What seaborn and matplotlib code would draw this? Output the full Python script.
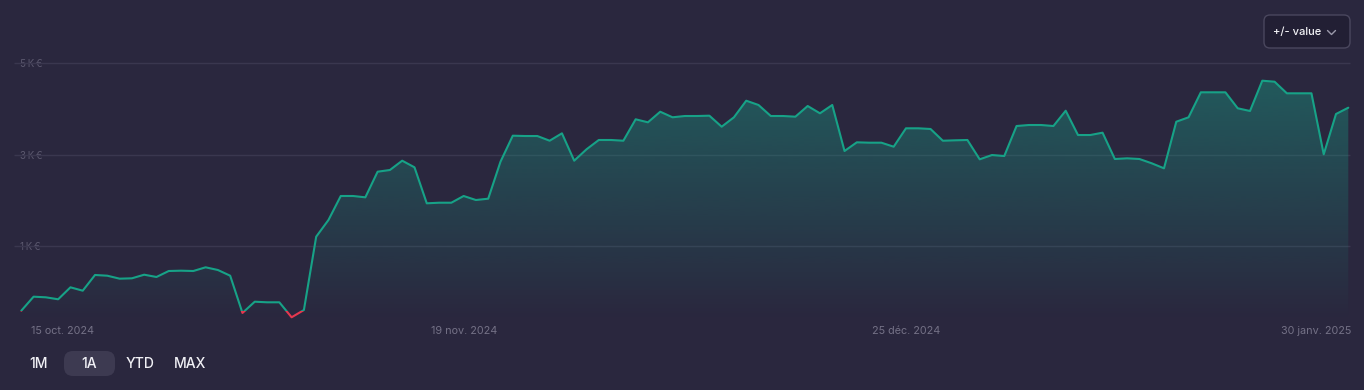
import numpy as np
import pandas as pd
import matplotlib
matplotlib.use("Agg")
import matplotlib.pyplot as plt
import seaborn as sns
from matplotlib.patches import Rectangle, FancyBboxPatch
from matplotlib.colors import to_rgb

# ---------------- data ----------------
values = [-416, -109, -123, -166, 96, 22, 366, 350, 285, 293,
          372, 322, 453, 460, 453, 534, 475, 350, -465, -219,
          -232, -232, -560, -401, 1204, 1570, 2095, 2095, 2066, 2627,
          2664, 2868, 2723, 1935, 1948, 1948, 2095, 2007, 2036, 2846,
          3415, 3408, 3408, 3305, 3467, 2868, 3117, 3321, 3321, 3305,
          3774, 3708, 3940, 3818, 3846, 3846, 3853, 3612, 3818, 4181,
          4087, 3846, 3846, 3831, 4065, 3905, 4087, 3080, 3270, 3262,
          3262, 3174, 3577, 3577, 3562, 3305, 3314, 3321, 2898, 2992,
          2970, 3627, 3649, 3649, 3627, 3962, 3430, 3430, 3481, 2905,
          2920, 2905, 2811, 2701, 3721, 3818, 4365, 4365, 4365, 4015,
          3956, 4619, 4597, 4343, 4343, 4343, 3008, 3890, 4028]
tick_labels = ["15 oct. 2024", "19 nov. 2024", "25 déc. 2024", "30 janv. 2025"]
tick_index = [3.35, 36, 72, 105.4]
y_ticks = [1000, 3000, 5000]
y_tick_labels = ["1\u202fK\u202f€", "3\u202fK\u202f€", "5\u202fK\u202f€"]
range_buttons = ["1M", "1A", "YTD", "MAX"]
active_button = "1A"
mode_label = "+/- value"

# ---------------- style ----------------
W, H = 1364, 390
BG = "#2a273e"
TEAL = "#17a287"
RED = "#e5384f"
GRID = "#3a374f"
XLAB = "#747186"
YLAB = "#5c596f"

sns.set_theme(style="dark", rc={"axes.facecolor": BG, "figure.facecolor": BG})
plt.rcParams["font.family"] = ["Inter", "DejaVu Sans"]

df = pd.DataFrame({"i": np.arange(len(values)), "v": values})
n = len(values)

fig = plt.figure(figsize=(W / 100, H / 100), dpi=100, facecolor=BG)
ax_top_px, ax_bot_px = 40, 322
ax = fig.add_axes([0, (H - ax_bot_px) / H, 1, (ax_bot_px - ax_top_px) / H])
ax.set_facecolor(BG)

x0_px, x1_px = 21.3, 1348.3
px = (x1_px - x0_px) / (n - 1)
xlo, xhi = -x0_px / px, (n - 1) + (W - x1_px) / px
zero_y, ppk = 291.7, 45.68


def y_of(py):
    return (zero_y - py) * 1000 / ppk


ylo, yhi = y_of(ax_bot_px), y_of(ax_top_px)

# gridlines
ax.hlines(y_ticks, xmin=(14 - x0_px) / px, xmax=(1350 - x0_px) / px,
          color=GRID, lw=1, zorder=1)

# gradient fill under the line
poly = ax.fill_between(df["i"], df["v"], ylo, facecolor="none", edgecolor="none")
grad = np.zeros((256, 1, 4))
grad[..., :3] = to_rgb(TEAL)
grad[:, 0, 3] = np.linspace(0.0, 0.42, 256)
im = ax.imshow(grad, extent=[xlo, xhi, y_of(320), y_of(78)], origin="lower",
               aspect="auto", zorder=1.5, interpolation="bilinear")
im.set_clip_path(poly.get_paths()[0], ax.transData)

# lines: green above the starting value, red below
sns.lineplot(data=df, x="i", y="v", ax=ax, color=TEAL, linewidth=1.5, zorder=3)
green = ax.lines[-1]
sns.lineplot(data=df, x="i", y="v", ax=ax, color=RED, linewidth=1.5, zorder=3.1)
red = ax.lines[-1]
thr = values[0]
big = 1e6
green.set_clip_path(Rectangle((-big, thr), 2 * big, big, transform=ax.transData))
red.set_clip_path(Rectangle((-big, thr - big), 2 * big, big, transform=ax.transData))
for ln in (green, red):
    ln.set_solid_capstyle("round")
    ln.set_solid_joinstyle("round")

ax.set_xlim(xlo, xhi)
ax.set_ylim(ylo, yhi)
ax.set_xlabel("")
ax.set_ylabel("")
ax.grid(False)
for s in ax.spines.values():
    s.set_visible(False)

ax.set_xticks(tick_index, tick_labels)
ax.tick_params(axis="x", length=0, pad=4 * 0.72, labelsize=7.8, labelcolor=XLAB)
ax.set_yticks(y_ticks, y_tick_labels)
ax.tick_params(axis="y", length=0, pad=-20 * 0.72, labelsize=7, labelcolor=YLAB)
for lab in ax.get_yticklabels():
    lab.set_ha("left")

# ---------------- overlay UI ----------------
ov = fig.add_axes([0, 0, 1, 1], zorder=5)
ov.set_xlim(0, W)
ov.set_ylim(H, 0)
ov.axis("off")
ov.patch.set_alpha(0)

ov.add_patch(FancyBboxPatch((1264, 15), 86, 33, boxstyle="round,pad=0,rounding_size=6",
                            fc="#221f34", ec="#4a475e", lw=1))
ov.text(1297.5, 32.5, mode_label, ha="center", va="center", fontsize=8,
        color="#f2f2f6", fontweight="medium")
ov.plot([1327.5, 1331.5, 1335.5], [30.5, 34.5, 30.5], color="#9a98aa", lw=1,
        solid_capstyle="round")

btn_x = [39, 89, 140, 190]
for label, bx in zip(range_buttons, btn_x):
    if label == active_button:
        ov.add_patch(FancyBboxPatch((64, 351), 51, 25, boxstyle="round,pad=0,rounding_size=9",
                                    fc="#3d3a51", ec="none"))
    ov.text(bx, 363.5, label, ha="center", va="center", fontsize=10,
            color="#f0f0f5", fontweight="medium")

fig.savefig("out.png", dpi=100, facecolor=BG)
